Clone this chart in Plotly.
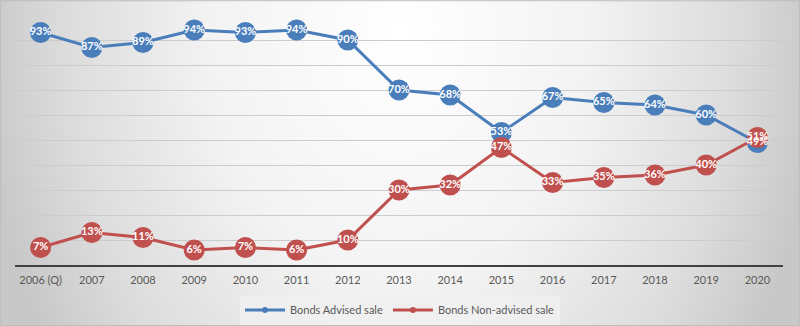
import base64
import plotly.graph_objects as go

years = ["2006 (Q)", "2007", "2008", "2009", "2010", "2011", "2012", "2013",
         "2014", "2015", "2016", "2017", "2018", "2019", "2020"]
advised = [93, 87, 89, 94, 93, 94, 90, 70, 68, 53, 67, 65, 64, 60, 49]
non_advised = [7, 13, 11, 6, 7, 6, 10, 30, 32, 47, 33, 35, 36, 40, 51]

BLUE = "#4a7ebb"
RED = "#c0504d"
W, H = 800, 326
ML, MR, MT, MB = 15, 17, 15, 61
PW, PH = W - ML - MR, H - MT - MB

svg = f'''<svg xmlns="http://www.w3.org/2000/svg" width="{W}" height="{H}" viewBox="0 0 {W} {H}" preserveAspectRatio="none">
<defs><radialGradient id="g" gradientUnits="userSpaceOnUse" cx="400" cy="30" r="420"
 gradientTransform="translate(400,30) scale(1,1.35) translate(-400,-30)">
<stop offset="0" stop-color="#ffffff"/><stop offset="0.45" stop-color="#f3f3f3"/>
<stop offset="0.8" stop-color="#dcdcdc"/><stop offset="1" stop-color="#c8c8c8"/>
</radialGradient></defs>
<rect x="0" y="0" width="{W}" height="{H}" fill="url(#g)"/>
</svg>'''
src = "data:image/svg+xml;base64," + base64.b64encode(svg.encode()).decode()

fig = go.Figure()
for name, vals, col in [("Bonds Advised sale", advised, BLUE),
                        ("Bonds Non-advised sale", non_advised, RED)]:
    fig.add_trace(go.Scatter(x=years, y=vals, mode="lines+markers", name=name,
                             line=dict(color=col, width=3),
                             marker=dict(color=col, size=21),
                             showlegend=False, hoverinfo="skip"))
for vals in [advised, non_advised]:
    fig.add_trace(go.Scatter(x=years, y=vals, mode="text",
                             text=[f"{v}%" for v in vals], textposition="middle center",
                             textfont=dict(color="white", size=11, family="Lato", weight="bold"),
                             showlegend=False, hoverinfo="skip"))
for name, col in [("Bonds Advised sale", BLUE), ("Bonds Non-advised sale", RED)]:
    fig.add_trace(go.Scatter(x=[None], y=[None], mode="lines+markers", name=name,
                             line=dict(color=col, width=3), marker=dict(color=col, size=6)))

fig.update_layout(
    width=W, height=H,
    margin=dict(l=ML, r=MR, t=MT, b=MB, autoexpand=False),
    paper_bgcolor="#d0d0d0", plot_bgcolor="rgba(0,0,0,0)",
    font=dict(family="Lato", size=11, color="#595959"),
    images=[dict(source=src, xref="paper", yref="paper",
                 x=-ML / PW, y=1 + MT / PH, sizex=W / PW, sizey=H / PH,
                 xanchor="left", yanchor="top", sizing="stretch", layer="below")],
    xaxis=dict(type="category", range=[-0.5, 14.5], showgrid=False,
               showline=True, linecolor="#404040", linewidth=1.5,
               ticks="", ticklabelstandoff=4, tickfont=dict(size=11, color="#595959")),
    yaxis=dict(range=[0, 100], dtick=10, showgrid=True, gridcolor="#cccccc",
               gridwidth=1, showticklabels=False, zeroline=False, fixedrange=True),
    legend=dict(orientation="h", x=(400 - ML) / PW, xanchor="center",
                y=-0.122, yanchor="top", bgcolor="rgba(240,240,240,0.85)",
                font=dict(size=11, color="#595959"), itemwidth=40,
                traceorder="normal"),
    shapes=[dict(type="rect", xref="paper", yref="paper",
                 x0=-ML / PW + 0.0008, x1=1 + MR / PW - 0.0008,
                 y0=-MB / PH + 0.002, y1=1 + MT / PH - 0.003,
                 line=dict(color="#bdbdbd", width=1), layer="below")],
)

fig.write_html("out.html")
